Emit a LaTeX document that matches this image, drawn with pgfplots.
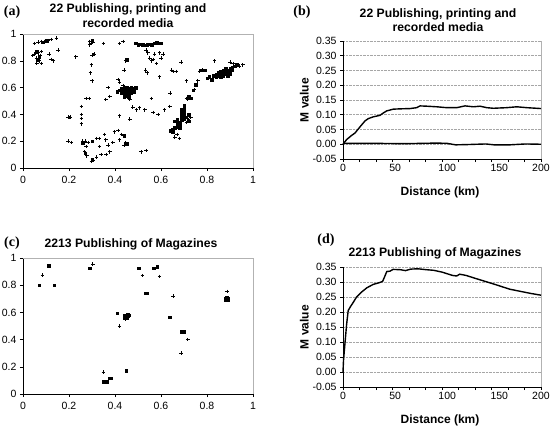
\documentclass[border=0pt]{standalone}
\usepackage{pgfplots}
\pgfplotsset{compat=1.18}
\usepackage{fontspec}
\setmainfont{Liberation Sans}
\newfontfamily\serifb{Liberation Serif}
\pgfplotsset{
  panel/.style={scale only axis, axis lines*=left,
    axis line style={black, line width=0.8pt},
    tick style={black, line width=0.6pt}, tick align=outside, major tick length=3pt,
    ticklabel style={font=\fontsize{10.5}{11}\selectfont},
    xticklabel style={yshift=-2pt},
    /pgf/number format/assume math mode=true, clip=false},
  scat/.style={panel, xmin=0, xmax=1, ymin=0, ymax=1, width=230pt,
    xtick={0,0.2,0.4,0.6,0.8,1}, ytick={0,0.2,0.4,0.6,0.8,1},
    xticklabels={0,0.2,0.4,0.6,0.8,1}, yticklabels={0,0.2,0.4,0.6,0.8,1}},
  mcurve/.style={panel, xmin=0, xmax=190, ymin=-0.05, ymax=0.35, width=198pt,
    ytick={-0.05,0,0.05,0.1,0.15,0.2,0.25,0.3,0.35},
    yticklabels={-0.05,0.00,0.05,0.10,0.15,0.20,0.25,0.30,0.35},
    ymajorgrids, grid style={gray!70, densely dotted, line width=0.6pt},
    xtick={0,15.83,31.67,47.5,63.33,79.17,95,110.83,126.67,142.5,158.33,174.17,190},
    xticklabels={},
    extra x ticks={0,50,100,150}, extra x tick labels={0,50,100,150},
    extra x tick style={major tick length=0pt, grid=none},
    xlabel={\bfseries Distance (km)}, ylabel={\bfseries M value},
    label style={font=\fontsize{12}{13}\selectfont},
    xlabel style={at={(axis description cs:0.49,-0.285)}, anchor=center},
    ylabel style={at={(axis description cs:-0.195,0.5)}, anchor=center}},
  pc/.style={only marks, mark=+, mark size=1.8pt, line width=0.9pt, black},
  ps/.style={only marks, mark=square*, mark size=1.3pt, black},
}
\begin{document}
\begin{tikzpicture}
\path[use as bounding box] (0,0) rectangle (553pt,-428pt);
% ---------- (a)
\begin{axis}[scat, at={(23pt,-34pt)}, anchor=north west, height=134pt]
\draw[gray!60, line width=0.6pt] (rel axis cs:0,1) -- (rel axis cs:1,1) -- (rel axis cs:1,0);
\addplot[pc] coordinates {
(0.05,0.85)(0.058,0.82)(0.065,0.86)(0.07,0.80)(0.075,0.84)(0.08,0.87)(0.06,0.78)(0.08,0.78)(0.043,0.84)
(0.05,0.93)(0.065,0.94)(0.08,0.945)(0.094,0.945)(0.11,0.95)(0.123,0.96)(0.145,0.97)(0.113,0.85)(0.123,0.81)(0.133,0.80)(0.152,0.88)
(0.23,0.83)(0.29,0.945)(0.297,0.93)(0.304,0.94)(0.29,0.92)(0.31,0.85)(0.30,0.84)(0.297,0.77)(0.293,0.71)(0.30,0.65)
(0.35,0.93)(0.42,0.93)(0.435,0.945)(0.446,0.80)(0.44,0.73)(0.413,0.66)(0.37,0.60)(0.377,0.535)
(0.42,0.64)(0.435,0.615)(0.464,0.51)(0.36,0.51)(0.42,0.39)(0.464,0.366)
(0.275,0.52)(0.287,0.52)(0.254,0.46)(0.254,0.40)(0.254,0.37)(0.254,0.33)(0.196,0.38)(0.206,0.38)
(0.196,0.20)(0.21,0.19)(0.26,0.20)(0.27,0.20)(0.283,0.19)(0.275,0.16)(0.268,0.12)(0.278,0.09)(0.297,0.05)(0.304,0.06)
(0.32,0.08)(0.34,0.10)(0.362,0.10)(0.377,0.12)(0.333,0.22)(0.355,0.25)(0.36,0.21)(0.37,0.17)(0.39,0.19)
(0.398,0.27)(0.413,0.28)(0.428,0.25)(0.435,0.24)(0.44,0.17)(0.446,0.19)(0.42,0.21)(0.32,0.22)(0.333,0.16)
(0.514,0.12)(0.536,0.13)
(0.536,0.88)(0.543,0.86)(0.551,0.82)(0.565,0.81)(0.558,0.80)(0.572,0.85)(0.594,0.86)(0.609,0.85)(0.601,0.82)(0.58,0.78)
(0.533,0.73)(0.54,0.71)(0.594,0.68)(0.645,0.73)(0.652,0.72)(0.667,0.72)(0.688,0.79)(0.71,0.65)(0.64,0.56)(0.558,0.52)
(0.478,0.455)(0.493,0.435)(0.507,0.45)(0.53,0.435)(0.565,0.415)(0.587,0.40)(0.616,0.435)(0.638,0.46)
(0.71,0.52)(0.717,0.51)(0.746,0.585)(0.754,0.62)(0.76,0.65)(0.768,0.72)(0.78,0.73)(0.833,0.80)(0.9,0.79)(0.913,0.78)(0.942,0.76)(0.956,0.77)
(0.66,0.23)(0.68,0.22)(0.67,0.25)(0.72,0.36)(0.73,0.38)(0.71,0.34)
};
\addplot[ps] coordinates {
(0.42,0.58)(0.43,0.56)(0.43,0.59)(0.44,0.55)(0.44,0.57)(0.44,0.60)(0.45,0.54)(0.45,0.56)(0.45,0.58)(0.45,0.60)
(0.46,0.55)(0.46,0.57)(0.46,0.59)(0.47,0.56)(0.47,0.58)(0.47,0.60)(0.48,0.57)(0.48,0.59)(0.49,0.60)(0.44,0.53)(0.46,0.53)(0.41,0.57)
(0.80,0.67)(0.81,0.68)(0.82,0.66)(0.83,0.69)(0.84,0.68)(0.84,0.70)(0.85,0.69)(0.85,0.71)(0.86,0.70)(0.86,0.72)(0.87,0.69)(0.87,0.71)
(0.87,0.73)(0.88,0.70)(0.88,0.72)(0.88,0.74)(0.89,0.71)(0.89,0.73)(0.90,0.72)(0.90,0.74)(0.91,0.73)(0.91,0.75)(0.92,0.76)(0.93,0.77)
(0.89,0.69)(0.86,0.68)(0.90,0.70)(0.77,0.73)(0.79,0.73)(0.75,0.62)(0.74,0.58)
(0.69,0.36)(0.69,0.38)(0.69,0.40)(0.69,0.42)(0.69,0.44)(0.70,0.37)(0.70,0.39)(0.70,0.41)(0.70,0.43)(0.70,0.45)(0.70,0.47)
(0.68,0.34)(0.68,0.32)(0.68,0.30)(0.67,0.33)(0.67,0.31)(0.66,0.35)(0.66,0.30)(0.65,0.29)(0.64,0.28)(0.65,0.27)(0.67,0.36)
(0.72,0.40)(0.71,0.38)(0.72,0.35)(0.72,0.53)(0.73,0.52)
(0.49,0.93)(0.50,0.92)(0.51,0.925)(0.52,0.92)(0.53,0.915)(0.54,0.92)(0.55,0.925)(0.56,0.92)(0.57,0.93)(0.58,0.935)(0.59,0.93)(0.60,0.93)
(0.07,0.83)(0.065,0.81)(0.06,0.87)(0.085,0.94)(0.10,0.95)(0.30,0.95)(0.305,0.85)(0.45,0.81)
(0.20,0.38)(0.26,0.19)(0.27,0.11)(0.30,0.06)(0.45,0.18)(0.44,0.24)(0.30,0.20)
};
\end{axis}
% ---------- (b)
\begin{axis}[mcurve, at={(343pt,-41pt)}, anchor=north west, height=118pt]
\draw[gray!60, line width=0.6pt] (rel axis cs:1,0) -- (rel axis cs:1,1);
\addplot[black, line width=1.4pt] coordinates {
(0,0)(3.5,0.016)(8.3,0.03)(11.5,0.038)(16.3,0.059)(21.1,0.079)(24.3,0.087)(29.1,0.093)(35.5,0.098)
(38.7,0.106)(41.9,0.113)(48.3,0.119)(54.7,0.12)(64.3,0.121)(70.7,0.124)(73.9,0.13)(80.3,0.129)
(89.9,0.127)(99.5,0.124)(109.1,0.124)(117.1,0.13)(125.1,0.127)(131.5,0.129)(137.9,0.124)(144.3,0.122)
(157.1,0.124)(166.7,0.127)(176.3,0.124)(190,0.121)};
\addplot[black, line width=1.4pt] coordinates {
(0,0.003)(30,0.003)(60,0.002)(90,0.004)(100,0.003)(108,-0.002)(120,-0.001)(137,0.001)(145,-0.002)(160,-0.002)(175,0.001)(190,0)};
\node[font=\fontsize{10.5}{11}\selectfont, anchor=north] at (axis cs:190,-0.05) [yshift=-2pt] {200};
\end{axis}
% ---------- (c)
\begin{axis}[scat, at={(23pt,-258pt)}, anchor=north west, height=136pt]
\draw[gray!60, line width=0.6pt] (rel axis cs:0,1) -- (rel axis cs:1,1) -- (rel axis cs:1,0);
\addplot[pc] coordinates {
(0.084,0.875)(0.304,0.955)(0.42,0.50)(0.35,0.16)(0.717,0.40)(0.688,0.30)(0.888,0.755)(0.445,0.55)(0.519,0.87)(0.594,0.865)(0.652,0.72)
};
\addplot[ps] coordinates {
(0.07,0.80)(0.113,0.945)(0.135,0.80)(0.29,0.925)(0.50,0.925)(0.505,0.925)(0.532,0.74)(0.54,0.74)(0.568,0.925)(0.583,0.935)
(0.638,0.565)(0.69,0.46)(0.70,0.46)(0.409,0.595)(0.44,0.56)(0.445,0.57)(0.45,0.58)(0.455,0.575)(0.46,0.58)(0.44,0.575)(0.45,0.56)(0.455,0.585)
(0.348,0.09)(0.365,0.09)(0.377,0.115)(0.384,0.115)(0.449,0.17)
(0.88,0.70)(0.885,0.695)(0.89,0.70)(0.885,0.71)(0.88,0.69)(0.89,0.69)
};
\end{axis}
% ---------- (d)
\begin{axis}[mcurve, at={(343pt,-267pt)}, anchor=north west, height=120pt,
  xlabel style={at={(axis description cs:0.49,-0.275)}}]
\draw[gray!60, line width=0.6pt] (rel axis cs:1,0) -- (rel axis cs:1,1);
\addplot[black, line width=1.4pt] coordinates {
(0,0)(0.5,0.04)(2,0.1)(3.5,0.16)(5,0.205)(7,0.217)(10,0.233)(13,0.25)(18,0.267)(23,0.281)(29,0.292)
(35,0.298)(38,0.302)(40,0.318)(42,0.335)(45,0.336)(48,0.342)(55,0.341)(60,0.338)(65,0.343)(72,0.344)
(80,0.341)(87,0.339)(95,0.333)(105,0.322)(109,0.320)(112,0.326)(118,0.322)(128,0.311)(144,0.294)
(160,0.276)(170,0.269)(180,0.262)(190,0.256)};
\node[font=\fontsize{10.5}{11}\selectfont, anchor=north] at (axis cs:190,-0.05) [yshift=-2pt] {200};
\end{axis}
% ---------- titles and panel letters
\begin{scope}[every node/.style={font=\bfseries\fontsize{12.2}{14.5}\selectfont, align=center}]
\node at (128pt,-15.5pt) {22 Publishing, printing and\\recorded media};
\node at (438pt,-20pt) {22 Publishing, printing and\\recorded media};
\node at (131pt,-244pt) {2213 Publishing of Magazines};
\node at (435pt,-253pt) {2213 Publishing of Magazines};
\end{scope}
\begin{scope}[every node/.style={font=\serifb\bfseries\fontsize{14}{15}\selectfont}]
\node at (12pt,-12pt) {(a)};
\node at (302pt,-12pt) {(b)};
\node at (12pt,-243pt) {(c)};
\node at (326pt,-240pt) {(d)};
\end{scope}
\end{tikzpicture}
\end{document}
